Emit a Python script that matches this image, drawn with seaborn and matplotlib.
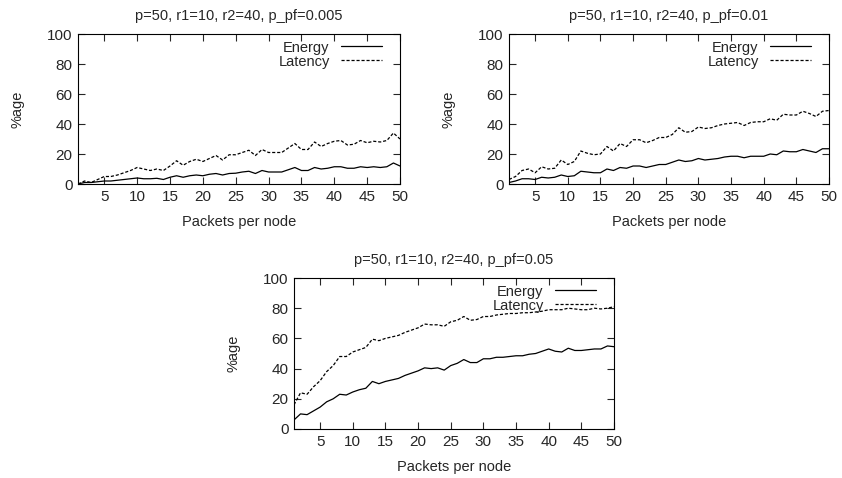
import numpy as np
import pandas as pd
import matplotlib
matplotlib.use("Agg")
import matplotlib.pyplot as plt
import seaborn as sns

packets = list(range(1, 51))

# p_pf = 0.005
energy_005 = [0, 1, 1, 1.5, 2, 2, 2.5, 3, 3.5, 4, 3.5, 3.5, 3.8, 3, 4.5, 5.5, 4.5, 5.5, 6, 5.5,
              6.5, 7, 6, 7, 7.2, 8, 8.5, 7, 9, 8, 8, 8, 9.5, 11, 9, 9, 11, 10, 10.5, 11.5,
              11.5, 10.5, 10.5, 11.5, 11, 11.5, 11, 11.5, 14, 12]
latency_005 = [0, 2, 1, 3, 5, 5, 6, 7.5, 9, 11, 10, 9, 10, 9, 12, 15.5, 12.5, 15, 16.5, 15,
               17, 19, 16, 19.5, 19.5, 21, 22.5, 19, 23, 21, 21, 21, 24, 27, 23, 23, 28, 25, 27, 28.5,
               29, 26, 26.5, 29, 27.5, 28.5, 28, 29, 34, 30]

# p_pf = 0.01
energy_01 = [1, 2, 3.5, 3.5, 3, 4.5, 4, 4.5, 6, 5, 5.5, 8.5, 8, 7.5, 7.5, 10, 9, 11, 10.5, 12,
             12, 11, 12, 13, 13, 14.5, 16, 15, 15.5, 17, 16, 16.5, 17, 18, 18.5, 18.5, 17.5, 18.5, 18.5, 18.5,
             20, 19.5, 22, 21.5, 21.5, 23, 22, 21, 23.5, 23.5]
latency_01 = [3, 5, 9, 10, 7.5, 11.5, 10, 10.5, 16, 13, 15, 22, 20.5, 19.5, 20, 25, 22, 27, 25, 29.5,
              29.5, 27.5, 29, 31, 31, 33, 37.5, 34.5, 35, 38, 37, 37.5, 39, 40, 40.5, 41, 39, 41, 41.5, 41.5,
              43.5, 42.5, 46.5, 46, 46, 48.5, 47, 45, 48.5, 49]

# p_pf = 0.05
energy_05 = [6, 10, 9.5, 12, 14.5, 18, 20, 23, 22.5, 24.5, 26, 27, 31.5, 30, 31.5, 32.5, 33.5, 35.5, 37, 38.5,
             40.5, 40, 40.5, 39, 42, 43.5, 46, 44, 44, 46.5, 46.5, 47.5, 47.5, 48, 48.5, 48.5, 49.5, 50, 51.5, 53,
             51.5, 51, 53.5, 52, 52, 52.5, 53, 53, 55, 54.5]
latency_05 = [16, 24, 23, 28, 32, 38, 42, 48, 48, 51, 52.5, 54, 59.5, 58.5, 60, 61, 62, 64, 65.5, 67,
              69.5, 69, 69, 68, 71, 72, 74.5, 72, 72.5, 74.5, 74.5, 75.5, 76, 76.5, 76.5, 77, 77, 77.5, 78, 79,
              79, 79, 80, 79.5, 79, 79, 80, 79.5, 80, 81]

panels = [
    ("p=50, r1=10, r2=40, p_pf=0.005", energy_005, latency_005),
    ("p=50, r1=10, r2=40, p_pf=0.01", energy_01, latency_01),
    ("p=50, r1=10, r2=40, p_pf=0.05", energy_05, latency_05),
]

sns.set_style("ticks")
plt.rcParams['font.family'] = ['Liberation Sans', 'DejaVu Sans']

fig = plt.figure(figsize=(8.42, 4.78), dpi=100)
W, H = 842, 478
boxes = [(78, 34, 400, 184), (509, 34, 829, 184), (294, 278, 614, 429)]

for (title, energy, latency), (l, t, r, b) in zip(panels, boxes):
    ax = fig.add_axes([l / W, 1 - b / H, (r - l) / W, (b - t) / H])
    df = pd.DataFrame({
        "packets": packets * 2,
        "value": energy + latency,
        "series": ["Energy"] * 50 + ["Latency"] * 50,
    })
    sns.lineplot(data=df, x="packets", y="value", style="series",
                 dashes={"Energy": "", "Latency": (2.5, 1.5)},
                 color="black", linewidth=0.9, ax=ax)
    ax.set_xlim(1, 50)
    ax.set_ylim(0, 100)
    ax.set_xticks(range(5, 51, 5))
    ax.set_yticks(range(0, 101, 20))
    ax.tick_params(direction="in", top=True, right=True, length=5, width=0.8,
                   labelsize=11, pad=4)
    for s in ax.spines.values():
        s.set_visible(True)
        s.set_linewidth(0.8)
        s.set_color("black")
    ax.set_title(title, fontsize=10.5, pad=10)
    ax.set_xlabel("Packets per node", fontsize=10.5, labelpad=8)
    ax.set_ylabel("%age", fontsize=10.5, labelpad=16)
    ax.legend(loc="upper right", bbox_to_anchor=(0.965, 1.0), frameon=False,
              markerfirst=False, fontsize=10.5, handlelength=2.8,
              handletextpad=0.8, labelspacing=0.0, borderaxespad=0.05,
              title=None)

fig.savefig("out.png", dpi=100)
